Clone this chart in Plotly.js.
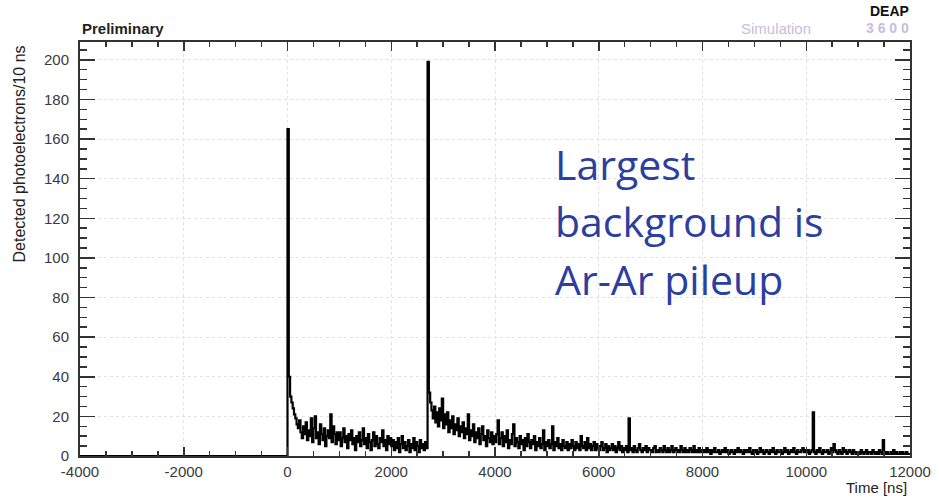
<!DOCTYPE html>
<html>
<head>
<meta charset="utf-8">
<script src="https://cdn.plot.ly/plotly-3.0.1.min.js"></script>
<style>html,body{margin:0;padding:0;background:#fff;}#chart{width:939px;height:500px;}</style>
</head>
<body>
<div id="chart"></div>
<script>
// Histogram: detected photoelectrons per bin, 25 ns bins starting at 0 ns
const histStart = 0;      // ns
const binWidth = 25;      // ns
const histEnd = 12000;    // ns
const axisStart = -4000;  // ns, empty region before the trigger

const counts0to1000 = [165, 40, 30, 27, 24, 21, 19, 16, 14, 18, 12, 9, 15, 11, 17, 8, 13, 10, 19, 7, 14, 20, 9, 12, 6, 16, 11, 8, 14, 5, 10, 13, 9, 21, 7, 15, 11, 6, 12, 8];
const counts1000to2000 = [12, 5, 9, 14, 7, 10, 4, 11, 8, 13, 6, 9, 3, 10, 7, 12, 5, 8, 14, 6, 9, 4, 11, 7, 3, 8, 12, 5, 10, 6, 4, 9, 7, 13, 5, 8, 3, 10, 6, 9];
const counts2000to2700 = [5, 8, 3, 7, 4, 9, 2, 6, 10, 4, 7, 3, 5, 8, 2, 6, 4, 9, 3, 7, 5, 2, 8, 4, 6, 3, 7, 4];
const counts2700to4000 = [199, 32, 27, 23, 19, 25, 17, 22, 15, 24, 18, 29, 14, 21, 16, 22, 12, 18, 14, 20, 11, 16, 13, 19, 10, 15, 12, 17, 9, 14, 11, 21, 8, 13, 10, 16, 7, 12, 9, 14, 6, 11, 15, 8, 10, 5, 13, 9, 7, 12, 6, 10];
const counts4000to5000 = [7, 11, 18, 6, 9, 12, 5, 10, 7, 13, 4, 8, 6, 11, 16, 5, 9, 7, 4, 10, 6, 8, 3, 9, 5, 11, 7, 4, 8, 6, 10, 3, 7, 5, 9, 4, 6, 13, 3, 7];
const counts5000to6000 = [5, 8, 4, 6, 15, 3, 7, 5, 9, 4, 6, 3, 8, 5, 4, 7, 3, 6, 4, 8, 5, 3, 7, 4, 6, 3, 10, 5, 4, 7, 3, 9, 4, 6, 3, 5, 7, 3, 6, 4];
const counts6000to7000 = [3, 5, 7, 3, 4, 6, 2, 5, 3, 4, 6, 3, 5, 2, 4, 7, 3, 5, 2, 4, 3, 5, 2, 19, 3, 4, 2, 5, 3, 2, 4, 6, 3, 2, 4, 3, 5, 2, 4, 3];
const counts7000to8000 = [3, 2, 4, 5, 2, 3, 2, 4, 3, 2, 5, 3, 2, 4, 2, 3, 5, 2, 3, 4, 2, 3, 2, 5, 3, 2, 4, 2, 3, 2, 4, 3, 2, 5, 2, 3, 2, 4, 2, 3];
const counts8000to9000 = [2, 3, 2, 4, 2, 3, 1, 3, 2, 4, 2, 2, 3, 1, 2, 3, 2, 4, 2, 3, 1, 2, 3, 2, 1, 3, 2, 4, 2, 3, 2, 1, 3, 2, 3, 2, 4, 2, 1, 3];
const counts9000to10000 = [2, 3, 1, 2, 4, 2, 3, 1, 2, 3, 2, 1, 3, 2, 4, 2, 1, 3, 2, 2, 3, 1, 2, 4, 2, 3, 1, 2, 3, 2, 4, 2, 1, 3, 2, 2, 3, 4, 2, 3];
const counts10000to11000 = [2, 3, 1, 2, 3, 22, 2, 1, 3, 2, 4, 2, 1, 3, 2, 2, 3, 1, 2, 4, 2, 6, 3, 2, 1, 3, 2, 1, 4, 2, 3, 1, 2, 3, 2, 1, 3, 2, 1, 2];
const counts11000to12000 = [2, 1, 3, 2, 1, 2, 3, 1, 2, 2, 1, 3, 2, 1, 2, 1, 3, 2, 1, 8, 2, 1, 2, 1, 1, 2, 1, 3, 1, 2, 1, 1, 2, 1, 2, 1, 1, 2, 1, 1];

const xTickVals = [-4000, -2000, 0, 2000, 4000, 6000, 8000, 10000, 12000];
const yTickVals = [0, 20, 40, 60, 80, 100, 120, 140, 160, 180, 200];

const allCounts = [].concat(counts0to1000, counts1000to2000, counts2000to2700, counts2700to4000,
  counts4000to5000, counts5000to6000, counts6000to7000, counts7000to8000, counts8000to9000,
  counts9000to10000, counts10000to11000, counts11000to12000);

// step line: bin left edges, plus the empty range before 0 and the closing edge
const xs = [axisStart];
const ys = [0];
allCounts.forEach((c, i) => { xs.push(histStart + i * binWidth); ys.push(c); });
xs.push(histEnd); ys.push(allCounts[allCounts.length - 1]);

const L = 80, R = 29, T = 42, B = 44, W = 939, H = 500;
const pw = W - L - R, ph = H - T - B;
const px2x = p => (p - L) / pw;
const py2y = p => (H - B - p) / ph;

const FONT = 'Liberation Sans, Arial, sans-serif';
const tickFont = {family: FONT, size: 15, color: '#3a3a3a'};
const blue = '#2c3f9f';

const trace = {
  x: xs, y: ys, type: 'scatter', mode: 'lines',
  line: {shape: 'hv', color: '#000', width: 2.2},
  hoverinfo: 'skip'
};

const layout = {
  width: W, height: H,
  margin: {l: L, r: R, t: T, b: B},
  paper_bgcolor: '#fff', plot_bgcolor: '#fff',
  showlegend: false,
  xaxis: {
    range: [-4000, 12000], tickvals: xTickVals, ticktext: xTickVals.map(String),
    ticks: 'inside', ticklen: 9, tickwidth: 1.5, tickcolor: '#333',
    minor: {dtick: 500, ticks: 'inside', ticklen: 5, tickcolor: '#333', showgrid: false},
    showline: true, linecolor: '#333', linewidth: 2, mirror: 'ticks',
    showgrid: true, gridcolor: '#e2e2e2', griddash: 'dot', gridwidth: 1,
    zeroline: false, tickfont: tickFont, ticklabelstandoff: 1
  },
  yaxis: {
    range: [0, 209], tickvals: yTickVals, ticktext: yTickVals.map(String),
    ticks: 'inside', ticklen: 15, tickwidth: 1.5, tickcolor: '#333',
    minor: {dtick: 5, ticks: 'inside', ticklen: 7, tickcolor: '#333', showgrid: false},
    showline: true, linecolor: '#333', linewidth: 2, mirror: 'ticks',
    showgrid: true, gridcolor: '#e2e2e2', griddash: 'dot', gridwidth: 1,
    zeroline: false, tickfont: tickFont, ticklabelstandoff: 6
  },
  annotations: [
    {text: '<b>Preliminary</b>', xref: 'paper', yref: 'paper', x: px2x(80), y: py2y(28),
     xanchor: 'left', yanchor: 'middle', showarrow: false,
     font: {family: FONT, size: 15, color: '#222'}},
    {text: 'Simulation', xref: 'paper', yref: 'paper', x: px2x(776), y: py2y(28),
     xanchor: 'center', yanchor: 'middle', showarrow: false,
     font: {family: FONT, size: 15, color: '#c9bcdd'}},
    {text: '<b>3 6 0 0</b>', xref: 'paper', yref: 'paper', x: px2x(911), y: py2y(28),
     xanchor: 'right', yanchor: 'middle', showarrow: false,
     font: {family: FONT, size: 14, color: '#c9bcdd'}},
    {text: '<b>DEAP</b>', xref: 'paper', yref: 'paper', x: px2x(911), y: py2y(11),
     xanchor: 'right', yanchor: 'middle', showarrow: false,
     font: {family: FONT, size: 14, color: '#111'}},
    {text: 'Time [ns]', xref: 'paper', yref: 'paper', x: px2x(909), y: py2y(488),
     xanchor: 'right', yanchor: 'middle', showarrow: false,
     font: {family: FONT, size: 15, color: '#222'}},
    {text: 'Detected photoelectrons/10 ns', xref: 'paper', yref: 'paper', x: px2x(19), y: py2y(44),
     xanchor: 'center', yanchor: 'top', textangle: -90, showarrow: false,
     font: {family: FONT, size: 16, color: '#222'}},
    {text: 'Largest', xref: 'paper', yref: 'paper', x: px2x(553), y: py2y(164),
     xanchor: 'left', yanchor: 'middle', showarrow: false,
     font: {family: 'Open Sans, sans-serif', size: 41, color: blue}},
    {text: 'background is', xref: 'paper', yref: 'paper', x: px2x(553), y: py2y(221),
     xanchor: 'left', yanchor: 'middle', showarrow: false,
     font: {family: 'Open Sans, sans-serif', size: 41, color: blue}},
    {text: 'Ar-Ar pileup', xref: 'paper', yref: 'paper', x: px2x(553), y: py2y(279),
     xanchor: 'left', yanchor: 'middle', showarrow: false,
     font: {family: 'Open Sans, sans-serif', size: 41, color: blue}}
  ]
};

Plotly.newPlot('chart', [trace], layout, {staticPlot: true, displayModeBar: false});
</script>
</body>
</html>
